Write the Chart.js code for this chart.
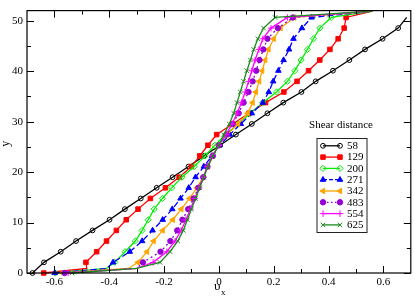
<!DOCTYPE html>
<html>
<head>
<meta charset="utf-8">
<script src="https://cdn.jsdelivr.net/npm/chart.js@4/dist/chart.umd.min.js"></script>
<style>
  html, body { margin: 0; padding: 0; background: #fff; }
  #wrap { width: 415px; height: 300px; position: relative; }
</style>
</head>
<body>
<div id="wrap"><canvas id="c" width="415" height="300"></canvas></div>
<script>
// ---- data ----
const Y = [0, 0.9, 2.11, 4.22, 6.33, 8.44, 10.55, 12.66, 14.77, 16.88, 18.99, 21.1, 23.21,
           25.32, 27.43, 29.54, 31.65, 33.76, 35.87, 37.98, 40.09, 42.2, 44.31, 46.42, 48.53, 50.64, 51.9];
const SERIES_LABELS = ['58', '129', '200', '271', '342', '483', '554', '625'];
const VX_58  = [-0.68, null, -0.638, -0.577, -0.521, -0.461, -0.399, -0.343, -0.285, -0.227, -0.169, -0.111, -0.054,
                0.004, 0.062, 0.12, 0.177, 0.235, 0.301, 0.353, 0.416, 0.476, 0.533, 0.597, 0.654, 0.685, null];
const VX_129 = [-0.639, -0.482, -0.485, -0.446, -0.41, -0.374, -0.338, -0.295, -0.25, -0.195, -0.145, -0.1, -0.07,
                -0.04, -0.008, 0.05, 0.11, 0.17, 0.237, 0.285, 0.327, 0.368, 0.405, 0.435, 0.457, 0.464, 0.56];
const VX_200 = [-0.597, -0.41, -0.38, -0.342, -0.305, -0.28, -0.258, -0.236, -0.206, -0.172, -0.135, -0.09, -0.05,
                -0.015, 0.025, 0.07, 0.115, 0.16, 0.21, 0.25, 0.277, 0.3, 0.323, 0.345, 0.368, 0.41, 0.56];
const VX_271 = [-0.599, -0.41, -0.386, -0.325, -0.28, -0.242, -0.205, -0.17, -0.14, -0.11, -0.085, -0.055, -0.025,
                0.003, 0.04, 0.08, 0.12, 0.16, 0.182, 0.198, 0.217, 0.236, 0.256, 0.272, 0.303, 0.338, 0.56];
const VX_342 = [-0.57, -0.33, -0.295, -0.262, -0.238, -0.205, -0.168, -0.137, -0.107, -0.08, -0.058, -0.04, -0.022,
                -0.002, 0.03, 0.07, 0.105, 0.123, 0.135, 0.147, 0.158, 0.169, 0.181, 0.2, 0.225, 0.275, 0.56];
const VX_483 = [-0.563, -0.3, -0.277, -0.213, -0.177, -0.152, -0.133, -0.112, -0.092, -0.075, -0.057, -0.042, -0.022,
                0.0, 0.028, 0.05, 0.072, 0.09, 0.108, 0.123, 0.136, 0.148, 0.162, 0.177, 0.215, 0.27, 0.56];
const VX_554 = [-0.55, -0.3, -0.24, -0.19, -0.16, -0.138, -0.12, -0.104, -0.088, -0.072, -0.057, -0.042, -0.024,
                0.0, 0.026, 0.048, 0.066, 0.082, 0.096, 0.108, 0.12, 0.132, 0.146, 0.16, 0.19, 0.25, 0.56];
const VX_625 = [-0.536, -0.3, -0.215, -0.178, -0.15, -0.13, -0.115, -0.1, -0.085, -0.07, -0.055, -0.04, -0.022,
                0.0, 0.018, 0.038, 0.054, 0.066, 0.078, 0.09, 0.102, 0.115, 0.127, 0.142, 0.163, 0.205, 0.56];
const SERIES_VALUES = [VX_58, VX_129, VX_200, VX_271, VX_342, VX_483, VX_554, VX_625];

const X_TICKS = [-0.6, -0.4, -0.2, 0, 0.2, 0.4, 0.6];
const X_MINOR = [-0.5, -0.3, -0.1, 0.1, 0.3, 0.5];
const Y_TICKS = [0, 10, 20, 30, 40, 50];
const Y_MINOR = [5, 15, 25, 35, 45];
const LEGEND_TITLE = 'Shear distance';
const X_TITLE = 'υ';
const X_TITLE_SUB = 'x';
const Y_TITLE = 'y';

// ---- styles ----
const FONT = "'Liberation Serif', 'DejaVu Serif', serif";
const STYLES = [
  { color: '#000000', pointStyle: 'circle',   radius: 2.4, fill: false, dash: [] },
  { color: '#ff0000', pointStyle: 'rect',     radius: 3.2, fill: true,  dash: [] },
  { color: '#00ee00', pointStyle: 'rectRot',  radius: 3.1, fill: false, dash: [] },
  { color: '#0000ff', pointStyle: 'triangle', radius: 3.2, fill: true,  dash: [6, 3] },
  { color: '#ffa500', pointStyle: 'triangle', radius: 3.2, fill: true,  dash: [], rotation: -90 },
  { color: '#9400d3', pointStyle: 'circle',   radius: 2.7, fill: true,  dash: [2, 3] },
  { color: '#ff00ff', pointStyle: 'cross',    radius: 3.2, fill: false, dash: [] },
  { color: '#1a8b1a', pointStyle: 'crossRot', radius: 3.1, fill: false, dash: [] }
];
const NO_MARKER_Y = [0.9, 51.9];

const datasets = SERIES_VALUES.map((vals, i) => {
  const st = STYLES[i];
  const pts = [];
  Y.forEach((y, k) => { if (vals[k] !== null) pts.push({ x: vals[k], y: y }); });
  const lastIdx = pts.length - 1;
  return {
    label: SERIES_LABELS[i],
    data: pts,
    showLine: true,
    borderColor: st.color,
    borderWidth: 1.3,
    borderDash: st.dash,
    pointStyle: st.pointStyle,
    pointRotation: st.rotation || 0,
    pointBorderColor: st.color,
    pointBorderWidth: 1,
    pointBackgroundColor: st.fill ? st.color : 'rgba(0,0,0,0)',
    pointRadius: (ctx) => {
      const r = ctx.raw;
      if (!r) return 0;
      if (NO_MARKER_Y.includes(r.y)) return 0;
      if (i === 0 && ctx.dataIndex === lastIdx) return 0;
      return st.radius;
    },
    pointHoverRadius: 0,
    tension: 0,
    clip: 6,
    order: SERIES_VALUES.length - i
  };
});

const framePlugin = {
  id: 'frameTicks',
  afterDatasetsDraw(chart) {
    const { ctx, chartArea: a, scales } = chart;
    const xs = scales.x, ys = scales.y;
    ctx.save();
    ctx.strokeStyle = '#000';
    ctx.lineWidth = 1.2;
    ctx.strokeRect(a.left, a.top, a.right - a.left, a.bottom - a.top);
    ctx.lineWidth = 1;
    const vline = (px, y0, y1) => { ctx.beginPath(); ctx.moveTo(px, y0); ctx.lineTo(px, y1); ctx.stroke(); };
    const hline = (py, x0, x1) => { ctx.beginPath(); ctx.moveTo(x0, py); ctx.lineTo(x1, py); ctx.stroke(); };
    X_TICKS.forEach(v => { const p = Math.round(xs.getPixelForValue(v)) + 0.5; vline(p, a.bottom, a.bottom - 7); vline(p, a.top, a.top + 7); });
    X_MINOR.forEach(v => { const p = Math.round(xs.getPixelForValue(v)) + 0.5; vline(p, a.bottom, a.bottom - 4); vline(p, a.top, a.top + 4); });
    Y_TICKS.forEach(v => { const p = Math.round(ys.getPixelForValue(v)) + 0.5; hline(p, a.left, a.left + 7); hline(p, a.right, a.right - 7); });
    Y_MINOR.forEach(v => { const p = Math.round(ys.getPixelForValue(v)) + 0.5; hline(p, a.left, a.left + 4); hline(p, a.right, a.right - 4); });
    ctx.restore();
  },
  afterDraw(chart) {
    const { ctx, chartArea: a } = chart;
    ctx.save();
    ctx.fillStyle = '#000';
    // axis titles
    ctx.font = '13px ' + FONT;
    ctx.textAlign = 'left';
    ctx.textBaseline = 'alphabetic';
    const cx = (a.left + a.right) / 2;
    ctx.fillText(X_TITLE, cx - 5, 290);
    ctx.font = '9px ' + FONT;
    ctx.fillText(X_TITLE_SUB, cx + 2, 295);
    ctx.save();
    ctx.translate(9, (a.top + a.bottom) / 2 + 2);
    ctx.rotate(-Math.PI / 2);
    ctx.font = '12px ' + FONT;
    ctx.textAlign = 'center';
    ctx.fillText(Y_TITLE, 0, 0);
    ctx.restore();

    // legend
    const bx = 317, by = 138.5, bw = 50, bh = 94;
    ctx.font = '11px ' + FONT;
    ctx.textAlign = 'center';
    ctx.textBaseline = 'middle';
    ctx.fillText(LEGEND_TITLE, 341, 125);
    ctx.fillStyle = '#fff';
    ctx.fillRect(bx, by, bw, bh);
    ctx.strokeStyle = '#222';
    ctx.lineWidth = 1;
    ctx.strokeRect(bx, by, bw, bh);
    chart.data.datasets.forEach((ds, i) => {
      const st = STYLES[i];
      const ry = 145.8 + i * 11.3;
      const x0 = 323, x1 = 340;
      ctx.save();
      ctx.strokeStyle = st.color;
      ctx.lineWidth = 1.3;
      ctx.setLineDash(st.dash.length ? [4, 2] : []);
      if (i === 5) ctx.setLineDash([1.5, 2.5]);
      ctx.beginPath(); ctx.moveTo(x0, ry); ctx.lineTo(x1, ry); ctx.stroke();
      ctx.setLineDash([]);
      ctx.fillStyle = st.fill ? st.color : 'rgba(0,0,0,0)';
      ctx.lineWidth = 1;
      const opt = { pointStyle: st.pointStyle, radius: st.radius, rotation: st.rotation || 0, borderWidth: 1 };
      if (Chart.helpers && Chart.helpers.drawPoint) {
        Chart.helpers.drawPoint(ctx, opt, x0, ry);
        Chart.helpers.drawPoint(ctx, opt, x1, ry);
      }
      ctx.restore();
      ctx.fillStyle = '#000';
      ctx.font = '11px ' + FONT;
      ctx.textAlign = 'left';
      ctx.fillText(SERIES_LABELS[i], 347, ry + 0.5);
    });
    ctx.restore();
  }
};

new Chart(document.getElementById('c'), {
  type: 'scatter',
  data: { datasets },
  options: {
    responsive: false,
    animation: false,
    events: [],
    layout: { padding: { top: 2, right: 2, left: 0, bottom: 0 } },
    plugins: { legend: { display: false }, tooltip: { enabled: false } },
    scales: {
      x: {
        type: 'linear', min: -0.7, max: 0.7,
        afterFit: s => { s.height = 27; },
        afterBuildTicks: s => { s.ticks = X_TICKS.map(v => ({ value: v })); },
        grid: { display: false, drawTicks: false },
        border: { display: false },
        ticks: {
          autoSkip: false, maxRotation: 0, padding: 3, color: '#000',
          font: { family: FONT, size: 11 },
          callback: v => (Math.abs(v) < 1e-9 ? '0' : Number(v).toFixed(1))
        }
      },
      y: {
        type: 'linear', min: 0, max: 52,
        afterFit: s => { s.width = 27; },
        afterBuildTicks: s => { s.ticks = Y_TICKS.map(v => ({ value: v })); },
        grid: { display: false, drawTicks: false },
        border: { display: false },
        ticks: {
          autoSkip: false, padding: 4, color: '#000',
          font: { family: FONT, size: 11 },
          callback: v => String(v)
        }
      }
    }
  },
  plugins: [framePlugin]
});
</script>
</body>
</html>
